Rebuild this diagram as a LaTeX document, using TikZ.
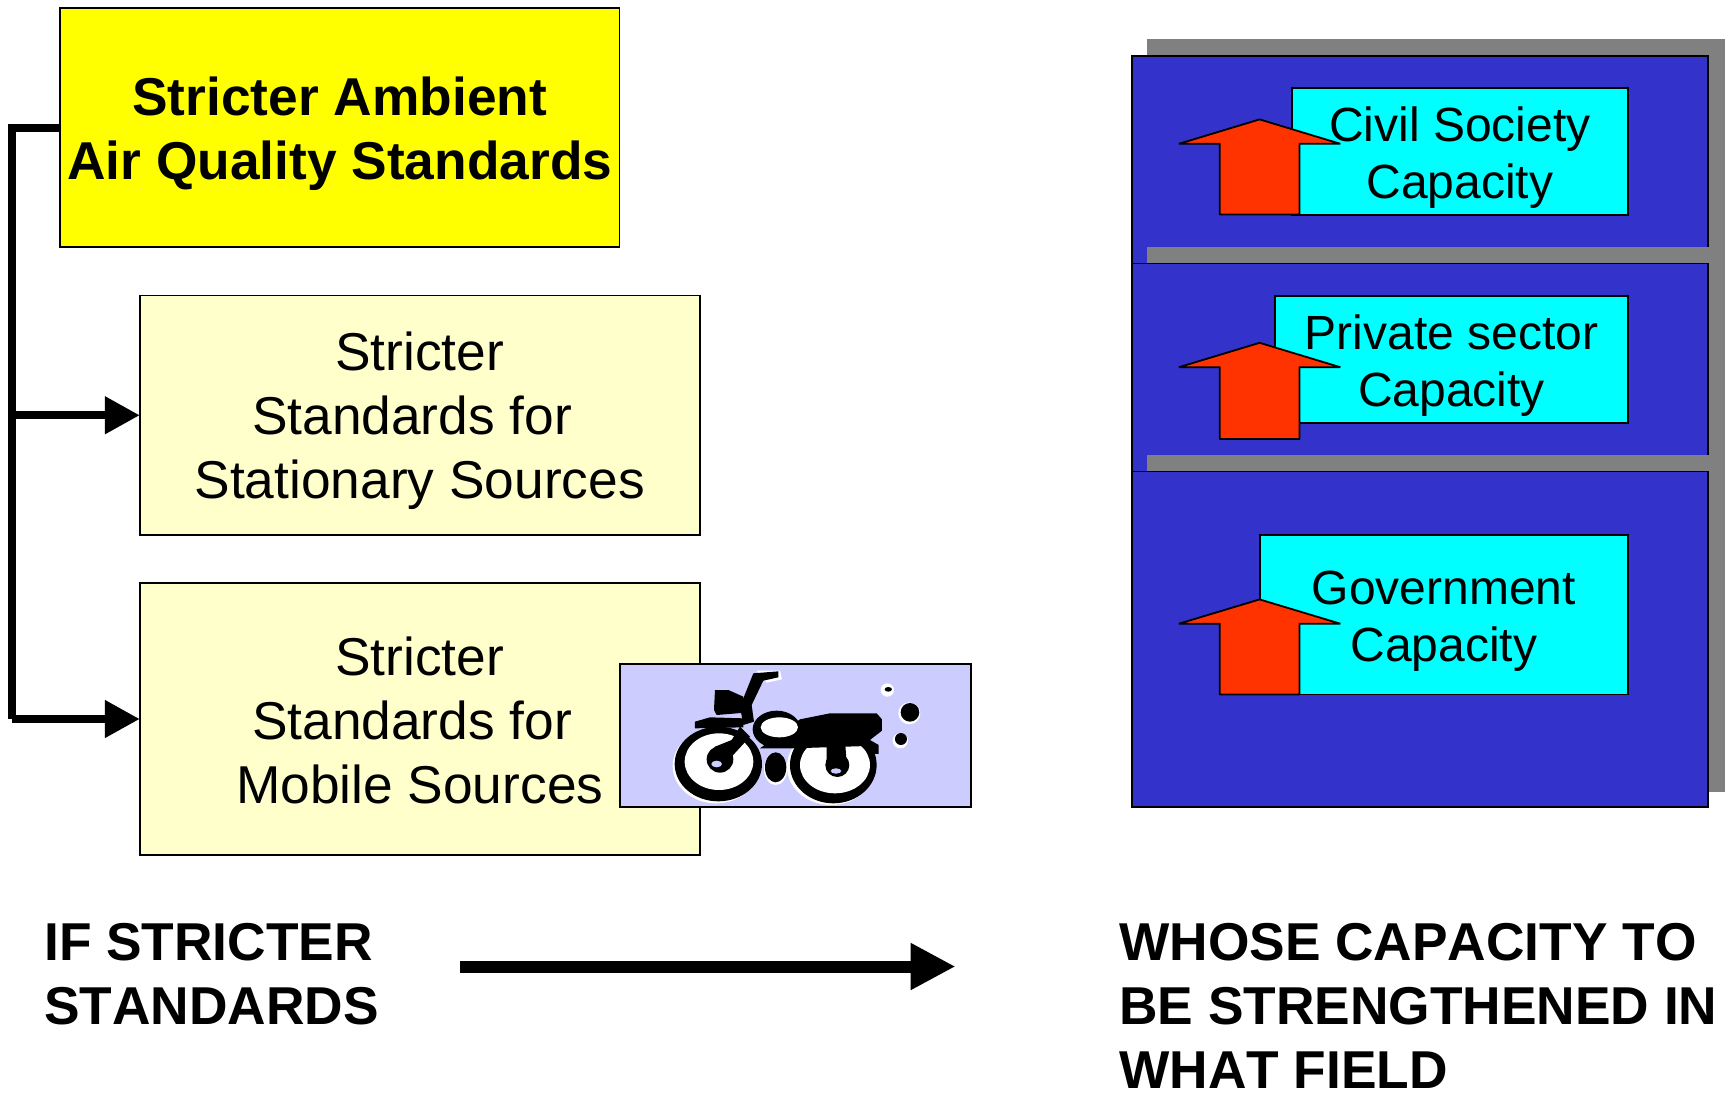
\documentclass[tikz,border=0pt]{standalone}
\usepackage{fontspec}
\setmainfont[Kerning=Off]{Liberation Sans}
\usetikzlibrary{arrows.meta}
\definecolor{ybox}{HTML}{FFFF00}
\definecolor{pbox}{HTML}{FFFFCC}
\definecolor{bluep}{HTML}{3333CC}
\definecolor{cyanb}{HTML}{00FFFF}
\definecolor{redar}{HTML}{FF3300}
\definecolor{grayb}{HTML}{808080}
\definecolor{lav}{HTML}{CCCCFF}
\tikzset{
  rectbox/.style={draw=black,line width=1.8pt,inner sep=0pt,outer sep=0pt,align=center},
  txtnode/.style={inner sep=0pt,align=center},
  bigtxt/.style={font=\fontsize{53.3}{64}\selectfont},
  captxt/.style={font=\fontsize{48}{57}\selectfont},
  boldtxt/.style={font=\fontsize{53.3}{64}\selectfont\bfseries},
  shadowbox/.style={fill=grayb,draw=none,inner sep=0pt,outer sep=0pt,minimum width=578pt},
  panel/.style={rectbox,fill=bluep,minimum width=576.3pt},
  upar/.style={draw=black,fill=redar,line width=1.8pt,line join=bevel},
  conn/.style={draw=black,line width=8pt,line join=miter},
  connar/.style={conn,-{Triangle[length=35pt,width=36pt]}},
  bigar/.style={draw=black,line width=12pt,-{Triangle[length=45pt,width=44pt]}},
  bk/.style={fill=black,draw=none},
  wh/.style={fill=white,draw=none}
}
\begin{document}
\begin{tikzpicture}[x=1pt,y=-1pt]
\useasboundingbox (0,0) rectangle (1734,1092);
% left boxes
\node[rectbox,fill=ybox,minimum width=559.5pt,minimum height=239pt] (yb) at (339.75,127.5) {};
\node[txtnode,boldtxt] (ybt) at ([yshift=-6pt]yb.center) {Stricter Ambient\\Air Quality Standards};
\node[rectbox,fill=pbox,minimum width=560pt,minimum height=239.5pt] (p1) at (419.75,415.25) {};
\node[txtnode,bigtxt] (p1t) at ([yshift=-5pt]p1.center) {Stricter\\Standards for\rule{15.4pt}{0pt}\\Stationary Sources};
\node[rectbox,fill=pbox,minimum width=560pt,minimum height=272pt] (p2) at (419.75,719) {};
\node[txtnode,bigtxt] (p2t) at ([yshift=-1pt]p2.center) {Stricter\\Standards for\rule{15.4pt}{0pt}\\Mobile Sources};
\node[rectbox,fill=lav,minimum width=350.8pt,minimum height=143pt] (bike) at (795.5,735.5) {};
% connectors
\coordinate (tt) at (12,127.5);
\coordinate (tm) at (12,415.25);
\coordinate (tb) at (12,719);
\draw[conn] (yb.west) -- (tt) -- (tb);
\draw[connar] (tm) -- (p1.west);
\draw[connar] (tb) -- (p2.west);
% motorcycle
\begin{scope}[shift={(600,640)},x=0.3333pt,y=-0.3333pt]
  % halos
  \fill[wh] (348,378) ellipse (130 and 112);
  \fill[wh] (693,380) ellipse (132 and 115);
  \fill[wh] (527,387) ellipse (35 and 48);
  \fill[wh] (862,150) circle (20);
  \fill[wh] (928,220) circle (33);
  \fill[wh] (901,302) circle (23);
  \fill[wh] (470,92) -- (540,92) -- (546,118) -- (500,128) -- cycle;
  % wheels
  \fill[bk] (355,372) ellipse (131 and 112);
  \fill[wh] (357,365) ellipse (103 and 85);
  \fill[bk] (700,375) ellipse (130 and 115);
  \fill[wh] (705,375) ellipse (105 and 85);
  % hubs and forks
  \fill[bk] (360,358) circle (40);
  \fill[lav] (350,372) ellipse (16 and 10);
  \fill[bk] (345,320) -- (395,300) -- (420,260) -- (450,290) -- (395,350) -- (360,350) -- cycle;
  \fill[bk] (712,375) circle (36);
  \fill[lav] (708,393) ellipse (16 and 8);
  \fill[bk] (680,300) -- (735,300) -- (740,370) -- (680,370) -- cycle;
  % engine
  \fill[bk] (527,382) ellipse (32 and 45);
  % body
  \fill[bk] (600,238) -- (690,220) -- (830,220) -- (846,238) -- (846,272) -- (810,300) -- (836,315) -- (836,342) -- (812,342) -- (800,318) -- (580,325) -- (480,325) -- cycle;
  \fill[bk] (530,268) ellipse (72 and 56);
  \fill[wh] (538,262) ellipse (56 and 30);
  % fender
  \fill[bk] (285,245) -- (330,232) -- (430,235) -- (430,262) -- (285,265) -- cycle;
  % headlight
  \fill[bk] (345,150) -- (385,150) -- (430,170) -- (436,218) -- (350,225) -- (342,210) -- cycle;
  % handlebar
  \fill[bk] (460,100) -- (535,94) -- (535,112) -- (490,122) -- (455,195) -- (462,245) -- (430,255) -- (420,200) -- cycle;
  % smoke
  \fill[bk] (865,148) ellipse (11 and 7);
  \fill[bk] (930,217) circle (28);
  \fill[bk] (903,297) circle (18);
\end{scope}
% right panels
\node[shadowbox,minimum height=400pt,anchor=north west] (s1) at (1147,38.7) {};
\node[panel,minimum height=400pt,anchor=north west] (b1) at (1131.8,55.8) {};
\node[shadowbox,minimum height=360pt,anchor=north west] (s2) at (1147,246.6) {};
\node[panel,minimum height=350pt,anchor=north west] (b2) at (1131.8,263.5) {};
\node[shadowbox,minimum height=337.5pt,anchor=north west] (s3) at (1147,454.5) {};
\node[panel,minimum height=335.2pt,anchor=north west] (b3) at (1131.8,471.5) {};
% cyan boxes
\node[rectbox,fill=cyanb,minimum width=335.6pt,minimum height=127.1pt] (c1) at (1459.8,151.3) {};
\node[txtnode,captxt] (c1t) at ([yshift=-6.5pt]c1.center) {Civil Society\\Capacity};
\node[rectbox,fill=cyanb,minimum width=352.3pt,minimum height=127.2pt] (c2) at (1451.45,359.2) {};
\node[txtnode,captxt] (c2t) at ([yshift=-6.5pt]c2.center) {Private sector\\Capacity};
\node[rectbox,fill=cyanb,minimum width=367.7pt,minimum height=159.2pt] (c3) at (1443.75,614.9) {};
\node[txtnode,captxt] (c3t) at ([yshift=-6.5pt]c3.center) {Government\\Capacity};
% up arrows
\draw[upar] (1259.6,119.4) -- (1340.3,143.8) -- (1299.4,143.8) -- (1299.4,214.5) -- (1219.8,214.5) -- (1219.8,143.8) -- (1178.9,143.8) -- cycle;
\draw[upar] (1259.6,342.8) -- (1340.3,367.2) -- (1299.4,367.2) -- (1299.4,439) -- (1219.8,439) -- (1219.8,367.2) -- (1178.9,367.2) -- cycle;
\draw[upar] (1259.6,599.4) -- (1340.3,623.7) -- (1299.4,623.7) -- (1299.4,694.5) -- (1219.8,694.5) -- (1219.8,623.7) -- (1178.9,623.7) -- cycle;
% bottom
\node[boldtxt,anchor=west,align=left,inner sep=0pt] (lt) at (44,974) {IF STRICTER\\STANDARDS};
\node[boldtxt,anchor=west,align=left,inner sep=0pt] (rt) at (1119,1005.5) {WHOSE CAPACITY TO\\BE STRENGTHENED IN\\WHAT FIELD};
\coordinate (ba) at (460,966.5);
\coordinate (bb) at (955.5,966.5);
\draw[bigar] (ba) -- (bb);
\end{tikzpicture}
\end{document}
